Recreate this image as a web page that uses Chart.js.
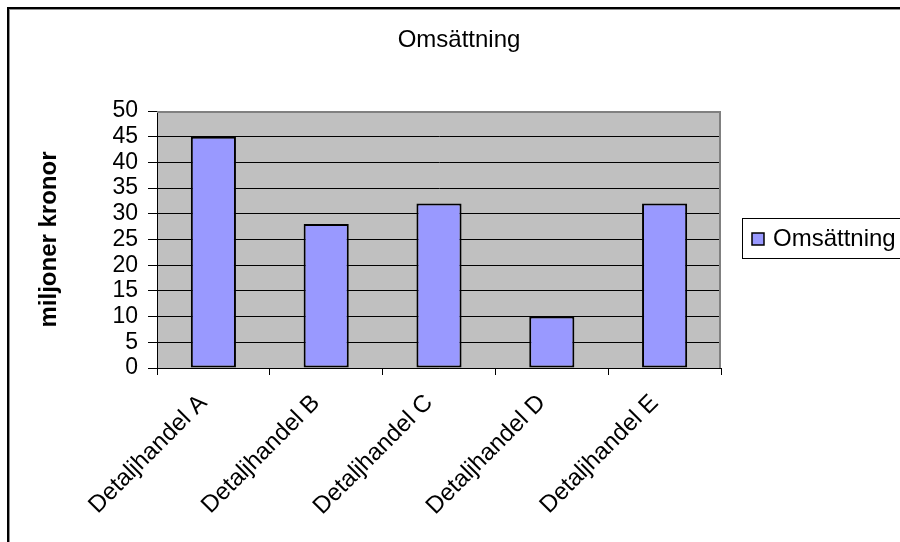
<!DOCTYPE html>
<html><head><meta charset="utf-8">
<script src="https://cdn.jsdelivr.net/npm/chart.js@4"></script>
<style>html,body{margin:0;padding:0;background:#fff}canvas{display:block}</style>
</head><body>
<canvas id="c" width="900" height="542"></canvas>
<script>
const categories = ['Detaljhandel A', 'Detaljhandel B', 'Detaljhandel C', 'Detaljhandel D', 'Detaljhandel E'];
const seriesName = 'Omsättning';
const seriesValues = [45, 28, 32, 10, 32];
const yMin = 0;
const yMax = 50;
const yStep = 5;
const chartTitle = 'Omsättning';
const yAxisTitle = 'miljoner kronor';

const FONT = "'Liberation Sans', Arial, sans-serif";
const BAR_COLOR = '#9999FF';

const backgroundPlugin = {
  id: 'bg',
  beforeDraw(chart) {
    const ctx = chart.ctx, a = chart.chartArea;
    ctx.save();
    ctx.fillStyle = '#ffffff';
    ctx.fillRect(0, 0, chart.width, chart.height);
    ctx.fillStyle = '#C0C0C0';
    ctx.fillRect(a.left, a.top, a.right - a.left, a.bottom - a.top);
    ctx.restore();
  }
};

const framePlugin = {
  id: 'frame',
  afterDatasetsDraw(chart) {
    const ctx = chart.ctx, a = chart.chartArea;
    ctx.save();
    ctx.strokeStyle = '#808080';
    ctx.lineWidth = 2;
    ctx.beginPath();
    ctx.moveTo(a.left, a.top + 1);
    ctx.lineTo(a.right - 1, a.top + 1);
    ctx.lineTo(a.right - 1, a.bottom);
    ctx.stroke();
    ctx.restore();
  },
  afterDraw(chart) {
    const ctx = chart.ctx;
    ctx.save();
    // outer chart border (top and left)
    ctx.fillStyle = '#000';
    ctx.fillRect(7, 7, chart.width - 7, 2);
    ctx.fillRect(7, 7, 2, chart.height - 7);
    ctx.fillStyle = '#909090';
    ctx.fillRect(9, 9, chart.width - 9, 1);
    ctx.fillRect(9, 9, 1, chart.height - 9);
    // legend
    const ds = chart.data.datasets[0];
    const lx = 742, ly = 218, lh = 40;
    ctx.fillStyle = '#fff';
    ctx.fillRect(lx, ly, chart.width - lx, lh);
    ctx.strokeStyle = '#000';
    ctx.lineWidth = 1;
    ctx.strokeRect(lx + 0.5, ly + 0.5, chart.width - lx + 5, lh);
    ctx.fillStyle = ds.backgroundColor;
    ctx.fillRect(752, 233, 12, 12);
    ctx.lineWidth = 1.5;
    ctx.strokeRect(752, 233, 12, 12);
    ctx.fillStyle = '#000';
    ctx.font = '24px ' + FONT;
    ctx.textBaseline = 'middle';
    ctx.textAlign = 'left';
    ctx.fillText(ds.label, 773, 239);
    ctx.restore();
  }
};

new Chart(document.getElementById('c'), {
  type: 'bar',
  data: {
    labels: categories,
    datasets: [{
      label: seriesName,
      data: seriesValues,
      backgroundColor: BAR_COLOR,
      borderColor: '#000',
      borderWidth: 2,
      borderSkipped: false,
      barPercentage: 0.4,
      categoryPercentage: 1.0
    }]
  },
  options: {
    responsive: false,
    animation: false,
    devicePixelRatio: 1,
    layout: { padding: { left: 18, right: 0, top: 0, bottom: 0 } },
    plugins: {
      legend: { display: false },
      tooltip: { enabled: false },
      title: {
        display: true,
        text: chartTitle,
        color: '#000',
        font: { family: FONT, size: 24, weight: 'normal', lineHeight: 1.2 },
        padding: { top: 25.6, bottom: 56.6 }
      }
    },
    scales: {
      x: {
        offset: true,
        grid: { offset: true, drawOnChartArea: false, drawTicks: true, tickLength: 7, color: '#000', lineWidth: 1 },
        border: { display: true, color: '#000', width: 1 },
        ticks: {
          color: '#000',
          font: { family: FONT, size: 24 },
          maxRotation: 45, minRotation: 45,
          autoSkip: false,
          labelOffset: -10,
          padding: 14
        },
        afterFit(s) { s.height = 542 - 368; }
      },
      y: {
        min: yMin, max: yMax,
        grid: { color: '#000', lineWidth: 1, tickLength: 9, drawTicks: true },
        border: { display: true, color: '#000', width: 1 },
        ticks: {
          stepSize: yStep,
          autoSkip: false,
          color: '#000',
          font: { family: FONT, size: 23 },
          padding: 10
        },
        title: {
          display: true,
          text: yAxisTitle,
          color: '#000',
          font: { family: FONT, size: 24, weight: 'bold', lineHeight: 1.2 },
          padding: { top: 17, bottom: 0 }
        },
        afterFit(s) { s.width = 157 - 18; }
      },
      yR: {
        position: 'right',
        display: true,
        grid: { display: false, drawTicks: false },
        border: { display: false },
        ticks: { display: false },
        afterFit(s) { s.width = 900 - 721; }
      }
    }
  },
  plugins: [backgroundPlugin, framePlugin]
});
</script>
</body></html>
